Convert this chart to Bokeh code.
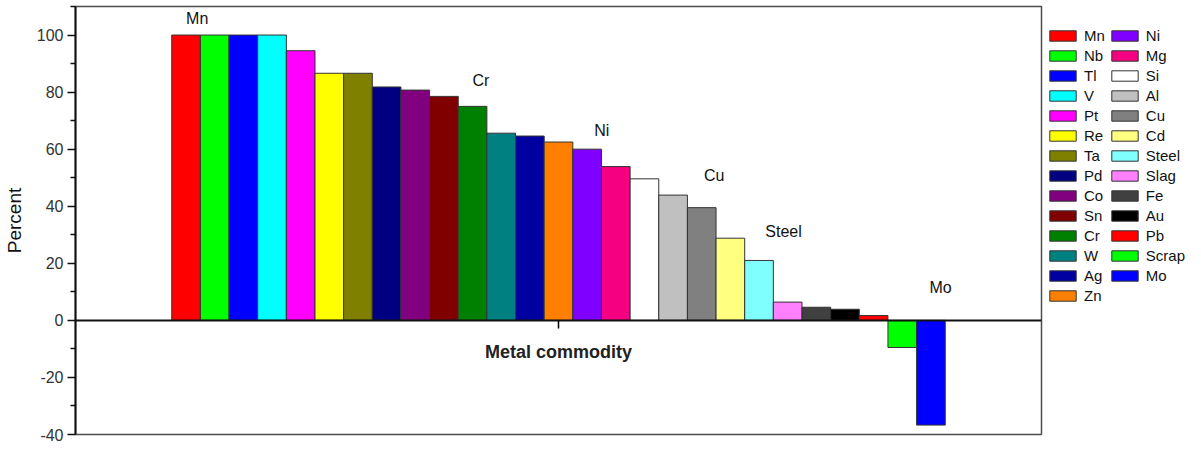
from bokeh.plotting import figure
from bokeh.models import Range1d, FixedTicker, Legend, LegendItem, ColumnDataSource, PrintfTickFormatter
from bokeh.core.properties import value
from bokeh.embed import file_html
from bokeh.resources import INLINE

# ---- data ----
commodities = ["Mn", "Nb", "Tl", "V", "Pt", "Re", "Ta", "Pd", "Co", "Sn", "Cr", "W", "Ag", "Zn",
               "Ni", "Mg", "Si", "Al", "Cu", "Cd", "Steel", "Slag", "Fe", "Au", "Pb", "Scrap", "Mo"]
percent = [100, 100, 100, 100, 94.5, 86.6, 86.6, 81.8, 80.7, 78.5, 75.0, 65.6, 64.6, 62.5,
           60.0, 53.9, 49.6, 43.9, 39.5, 28.8, 21.0, 6.4, 4.6, 3.9, 1.7, -9.5, -36.7]
colors = ["#FF0000", "#00FF00", "#0000FF", "#00FFFF", "#FF00FF", "#FFFF00", "#808000", "#000080",
          "#800080", "#800000", "#008000", "#008080", "#0000A0", "#FF8000", "#8000FF", "#F50080",
          "#FFFFFF", "#C0C0C0", "#808080", "#FFFF80", "#80FFFF", "#FF80FF", "#404040", "#000000",
          "#FF0000", "#00FF00", "#0000FF"]
callouts = ["Mn", "Cr", "Ni", "Cu", "Steel", "Mo"]
y_ticks = [-40, -20, 0, 20, 40, 60, 80, 100]

FONT = "Liberation Sans"
FW, FH = 966, 428

pos = list(range(1, len(commodities) + 1))
src = ColumnDataSource(dict(x=pos, top=percent, name=commodities, color=colors))
center = (pos[0] + pos[-1]) / 2
half = 16.86

p = figure(frame_width=FW, frame_height=FH,
           x_range=Range1d(center - half, center + half), y_range=Range1d(-40, 110),
           output_backend="svg", toolbar_location=None,
           min_border_left=69, min_border_right=150, min_border_top=6, min_border_bottom=9)
p.grid.visible = False
p.outline_line_color = "#4d4d4d"
p.outline_line_width = 1.5
p.background_fill_color = "white"
p.border_fill_color = "white"

r = p.vbar(x="x", top="top", bottom=0, width=1, fill_color="color",
           line_color="#333333", line_width=1, source=src)

# callout labels above selected bars
idx = {n: i for i, n in enumerate(commodities)}
cx_off = [0.0, 0.0, 0.25, 0.08, 0.22, -0.05]
cy = [105.8, 84.0, 66.6, 50.9, 31.2, 11.5]
cx = [pos[idx[n]] + o for n, o in zip(callouts, cx_off)]
p.text(x=cx, y=cy, text=callouts, text_font=value(FONT), text_font_size="16px",
       text_align="left", text_baseline="middle", text_color="#111111")

# x axis drawn at zero
xa = p.xaxis[0]
xa.fixed_location = 0
xa.ticker = FixedTicker(ticks=[center])
xa.major_label_text_font_size = "8px"
xa.major_label_text_color = None
xa.axis_label = "Metal commodity"
xa.axis_label_text_font = FONT
xa.axis_label_text_font_size = "18px"
xa.axis_label_text_font_style = "bold"
xa.axis_label_text_color = "#222222"
xa.axis_label_standoff = 13
xa.axis_line_width = 2
xa.axis_line_color = "#111111"
xa.major_tick_out = 8
xa.major_tick_in = 0
xa.major_tick_line_width = 1.5
xa.minor_tick_line_color = None

ya = p.yaxis[0]
ya.ticker = FixedTicker(ticks=y_ticks, minor_ticks=[t + 10 for t in y_ticks])
ya.formatter = PrintfTickFormatter(format="%d")
ya.major_label_text_font = FONT
ya.major_label_text_font_size = "16px"
ya.major_label_text_color = "#333333"
ya.major_label_standoff = 4
ya.axis_label = "Percent"
ya.axis_label_text_font = FONT
ya.axis_label_text_font_size = "19px"
ya.axis_label_text_font_style = "normal"
ya.axis_label_text_color = "#111111"
ya.axis_label_standoff = 9
ya.axis_line_width = 2
ya.axis_line_color = "#111111"
ya.major_tick_out = 8
ya.major_tick_in = 0
ya.minor_tick_out = 5
ya.minor_tick_in = 0
ya.major_tick_line_width = 1.5
ya.minor_tick_line_width = 1.5
ya.major_tick_line_color = "#111111"
ya.minor_tick_line_color = "#111111"

items = [LegendItem(label=n, renderers=[r], index=i) for i, n in enumerate(commodities)]
row = 20
top_gap = 20.5
nrows = (len(commodities) + 1) // 2
y_loc = FH - top_gap - (nrows * row - 3)

legend = Legend(items=items, location=(5, y_loc), ncols=2, margin=0, padding=0, spacing=3,
                glyph_width=33, glyph_height=13, label_standoff=5,
                label_text_font=FONT, label_text_font_size="15px", label_text_color="#111111",
                border_line_color=None, background_fill_alpha=0)
p.add_layout(legend, "right")

open("out.html", "w").write(file_html(p, INLINE))
